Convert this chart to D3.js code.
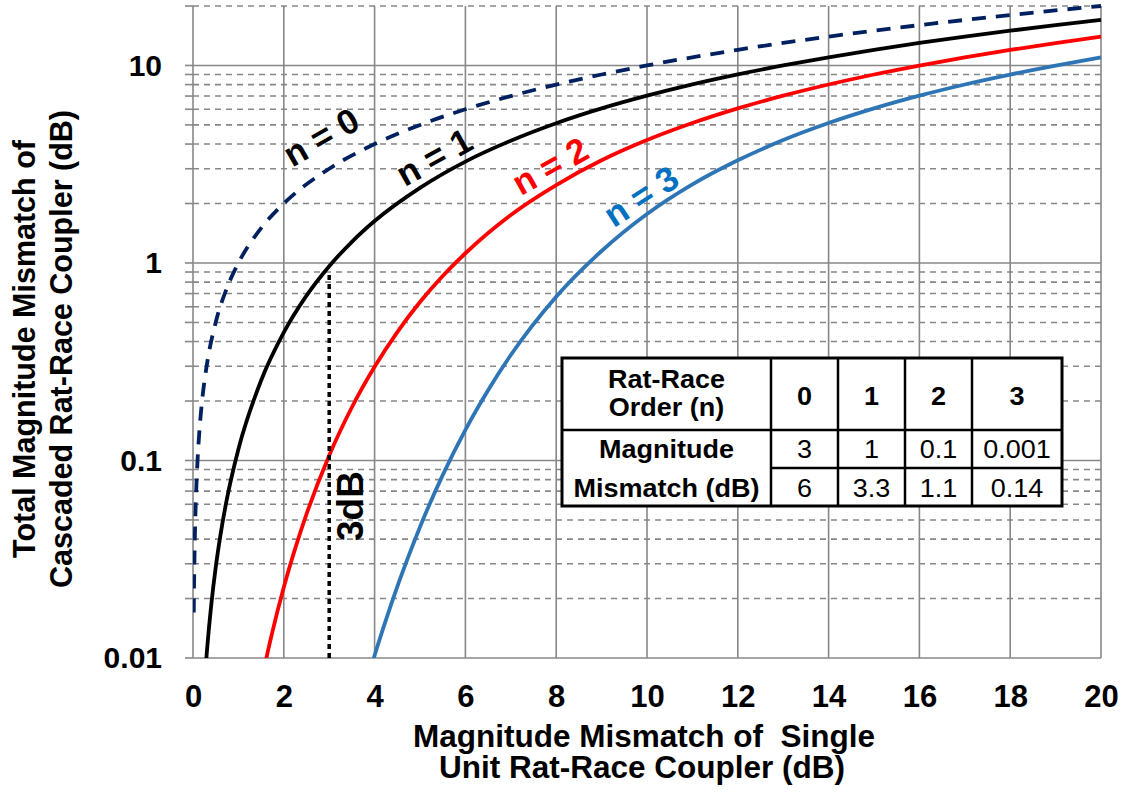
<!DOCTYPE html>
<html>
<head>
<meta charset="utf-8">
<script src="https://cdn.jsdelivr.net/npm/d3@7"></script>
<style>
  body { margin: 0; background: #fff; }
  svg text { font-family: Arial, "Liberation Sans", sans-serif; }
</style>
</head>
<body>
<svg id="chart" width="1130" height="804"></svg>
<script>
// values
const xN0 = [0.017, 0.02, 0.03, 0.05, 0.075, 0.1, 0.15, 0.2, 0.3, 0.5, 0.75, 1, 1.5, 2, 3, 4, 5, 6, 7, 8, 9, 10, 12, 14, 16, 18, 20]
const yN0 = [0.017, 0.02, 0.03, 0.05, 0.075, 0.1, 0.15, 0.2, 0.3, 0.5, 0.75, 1, 1.5, 2, 3, 4, 5, 6, 7, 8, 9, 10, 12, 14, 16, 18, 20]

const xN1 = [0.25, 0.3, 0.35, 0.4, 0.5, 0.6, 0.75, 1, 1.5, 2, 2.5, 3, 3.5, 4, 5, 6, 7, 8, 9, 10, 11, 12, 13, 14, 15, 16, 17, 18, 19, 20]
const yN1 = [0.0072, 0.0104, 0.0141, 0.0184, 0.0287, 0.0413, 0.0644, 0.114, 0.254, 0.445, 0.683, 0.963, 1.28, 1.63, 2.40, 3.26, 4.16, 5.10, 6.06, 7.03, 8.02, 9.01, 10.0, 11.0, 12.0, 13.0, 14.0, 15.0, 16.0, 17.0]

const xN2 = [1.5, 1.6, 1.75, 2, 2.25, 2.5, 3, 3.5, 4, 4.5, 5, 5.5, 6, 7, 8, 9, 10, 11, 12, 13, 14, 15, 16, 17, 18, 19, 20]
const yN2 = [0.0074, 0.0096, 0.0136, 0.0228, 0.0358, 0.0535, 0.106, 0.186, 0.298, 0.447, 0.634, 0.859, 1.12, 1.75, 2.48, 3.31, 4.19, 5.11, 6.06, 7.03, 8.01, 9.00, 9.99, 10.99, 11.98, 12.98, 13.98]

const xN3 = [3.75, 4, 4.25, 4.5, 4.75, 5, 5.5, 6, 6.5, 7, 8, 9, 10, 11, 12, 13, 14, 15, 16, 17, 18, 19, 20]
const yN3 = [0.0065, 0.0103, 0.0156, 0.0230, 0.0329, 0.0461, 0.0843, 0.143, 0.227, 0.342, 0.675, 1.15, 1.77, 2.50, 3.31, 4.19, 5.11, 6.06, 7.03, 8.01, 8.99, 9.98, 10.98]

// x ticks and y labels
const xTicks = [0, 2, 4, 6, 8, 10, 12, 14, 16, 18, 20]
const yLabels = [0.01, 0.1, 1, 10]
const yMinor = [0.02, 0.03, 0.04, 0.05, 0.06, 0.07, 0.08, 0.09,
                0.2, 0.3, 0.4, 0.5, 0.6, 0.7, 0.8, 0.9,
                2, 3, 4, 5, 6, 7, 8, 9, 20]

// table contents
const tableOrders = ['0', '1', '2', '3']
const tableAt3dB = ['3', '1', '0.1', '0.001']
const tableAt6dB = ['6', '3.3', '1.1', '0.14']

const svg = d3.select('#chart')
const pLeft = 193, pRight = 1101, pTop = 6, pBottom = 658
const gridColor = '#878787'

let x = d3.scaleLinear().domain([0, 20]).range([pLeft, pRight])
let y = d3.scaleLog().domain([0.01, 20]).range([pBottom, pTop])

// grid
let grid = svg.append('g')
grid.selectAll('.minor').data(yMinor).enter().append('line')
    .attr('x1', pLeft).attr('x2', pRight)
    .attr('y1', d => y(d)).attr('y2', d => y(d))
    .attr('stroke', gridColor).attr('stroke-width', 1.6)
    .attr('stroke-dasharray', '6,5')
grid.selectAll('.major').data(yLabels).enter().append('line')
    .attr('x1', pLeft).attr('x2', pRight)
    .attr('y1', d => y(d)).attr('y2', d => y(d))
    .attr('stroke', gridColor).attr('stroke-width', 1.6)
grid.selectAll('.vert').data(xTicks).enter().append('line')
    .attr('x1', d => x(d)).attr('x2', d => x(d))
    .attr('y1', pTop).attr('y2', pBottom)
    .attr('stroke', gridColor).attr('stroke-width', 1.6)
// small outside ticks on the left axis
grid.selectAll('.ltick').data(yMinor.concat(yLabels)).enter().append('line')
    .attr('x1', pLeft - 8).attr('x2', pLeft)
    .attr('y1', d => y(d)).attr('y2', d => y(d))
    .attr('stroke', gridColor).attr('stroke-width', 1.6)

// axes labels
let xAxis = svg.append('g')
    .attr('transform', `translate(0,${pBottom})`)
    .call(d3.axisBottom(x).tickValues(xTicks).tickSize(0).tickPadding(27).tickFormat(d3.format('d')))
xAxis.select('.domain').remove()
xAxis.selectAll('text').attr('font-size', 31).attr('font-weight', 'bold').attr('fill', '#000')

let yAxis = svg.append('g')
    .attr('transform', `translate(${pLeft},0)`)
    .call(d3.axisLeft(y).tickValues(yLabels).tickSize(0).tickPadding(31).tickFormat(d => String(d)))
yAxis.select('.domain').remove()
yAxis.selectAll('text').attr('font-size', 30).attr('font-weight', 'bold').attr('fill', '#000')

// curves
let clip = svg.append('clipPath').attr('id', 'plotclip')
clip.append('rect').attr('x', pLeft).attr('y', pTop - 4).attr('width', pRight - pLeft + 2).attr('height', pBottom - pTop + 4)

let line = d3.line().x(d => x(d[0])).y(d => y(d[1])).curve(d3.curveMonotoneX)

let series = [
    { xs: xN1, ys: yN1, color: '#000000', dash: null },
    { xs: xN2, ys: yN2, color: '#FF0000', dash: null },
    { xs: xN3, ys: yN3, color: '#2E75B6', dash: null },
    { xs: xN0, ys: yN0, color: '#002060', dash: '14,10' }
]

let curves = svg.append('g').attr('clip-path', 'url(#plotclip)')
series.forEach(s => {
    curves.append('path')
        .datum(s.xs.map((v, i) => [v, s.ys[i]]))
        .attr('d', line)
        .attr('fill', 'none')
        .attr('stroke', s.color)
        .attr('stroke-width', 3.8)
        .attr('stroke-dasharray', s.dash)
})

// 3 dB marker
svg.append('line')
    .attr('x1', x(3)).attr('x2', x(3))
    .attr('y1', y(0.01)).attr('y2', y(0.88))
    .attr('stroke', '#000').attr('stroke-width', 3.5)
    .attr('stroke-dasharray', '5,4')
svg.append('text')
    .attr('transform', 'translate(363,506) rotate(-90)')
    .attr('text-anchor', 'middle')
    .attr('font-size', 37).attr('font-weight', 'bold')
    .text('3dB')

// curve labels
let labels = [
    { t: 'n = 0', cx: 321, cy: 137, a: -30, c: '#000' },
    { t: 'n = 1', cx: 434, cy: 157, a: -29, c: '#000' },
    { t: 'n = 2', cx: 550, cy: 166, a: -29, c: '#FF0000' },
    { t: 'n = 3', cx: 641, cy: 196, a: -33, c: '#0070C0' }
]
svg.selectAll('.lbl').data(labels).enter().append('text')
    .attr('transform', d => `translate(${d.cx},${d.cy}) rotate(${d.a})`)
    .attr('text-anchor', 'middle').attr('dy', '0.35em')
    .attr('font-size', 35).attr('font-weight', 'bold')
    .attr('fill', d => d.c)
    .text(d => d.t)

// table
let colX = [562, 771, 838, 905, 972, 1062]
let rowY = [358, 430, 468, 506]
let tbl = svg.append('g')
tbl.append('rect').attr('x', colX[0]).attr('y', rowY[0])
    .attr('width', colX[5] - colX[0]).attr('height', rowY[3] - rowY[0])
    .attr('fill', '#fff').attr('stroke', '#000').attr('stroke-width', 3)
colX.slice(1, 5).forEach(cx => {
    tbl.append('line').attr('x1', cx).attr('x2', cx).attr('y1', rowY[0]).attr('y2', rowY[3])
        .attr('stroke', '#000').attr('stroke-width', 2.5)
})
tbl.append('line').attr('x1', colX[0]).attr('x2', colX[5]).attr('y1', rowY[1]).attr('y2', rowY[1])
    .attr('stroke', '#000').attr('stroke-width', 2.5)
tbl.append('line').attr('x1', colX[1]).attr('x2', colX[5]).attr('y1', rowY[2]).attr('y2', rowY[2])
    .attr('stroke', '#000').attr('stroke-width', 2.5)

let cellText = (cx, cy, t, bold) => {
    tbl.append('text')
        .attr('transform', `translate(${cx},${cy}) scale(1.08,1)`)
        .attr('text-anchor', 'middle')
        .attr('font-size', 25)
        .attr('font-weight', bold ? 'bold' : 'normal')
        .text(t)
}

let c0 = (colX[0] + colX[1]) / 2
cellText(c0, 388, 'Rat-Race', true)
cellText(c0, 416, 'Order (n)', true)
cellText(c0, 458, 'Magnitude', true)
cellText(c0, 497, 'Mismatch (dB)', true)

tableOrders.forEach((t, i) => {
    let cx = (colX[i + 1] + colX[i + 2]) / 2
    cellText(cx, 405, t, true)
    cellText(cx, 458, tableAt3dB[i], false)
    cellText(cx, 497, tableAt6dB[i], false)
})

// axis titles
svg.append('text').attr('x', 644).attr('y', 747).attr('text-anchor', 'middle')
    .attr('font-size', 31.5).attr('font-weight', 'bold')
    .style('white-space', 'pre')
    .text('Magnitude Mismatch of  Single')
svg.append('text').attr('x', 642).attr('y', 778).attr('text-anchor', 'middle')
    .attr('font-size', 31.5).attr('font-weight', 'bold')
    .text('Unit Rat-Race Coupler (dB)')

svg.append('text').attr('transform', 'translate(35,349) rotate(-90)').attr('text-anchor', 'middle')
    .attr('font-size', 30.5).attr('font-weight', 'bold')
    .text('Total Magnitude Mismatch of')
svg.append('text').attr('transform', 'translate(72,349) rotate(-90)').attr('text-anchor', 'middle')
    .attr('font-size', 30.5).attr('font-weight', 'bold')
    .text('Cascaded Rat-Race Coupler (dB)')
</script>
</body>
</html>
